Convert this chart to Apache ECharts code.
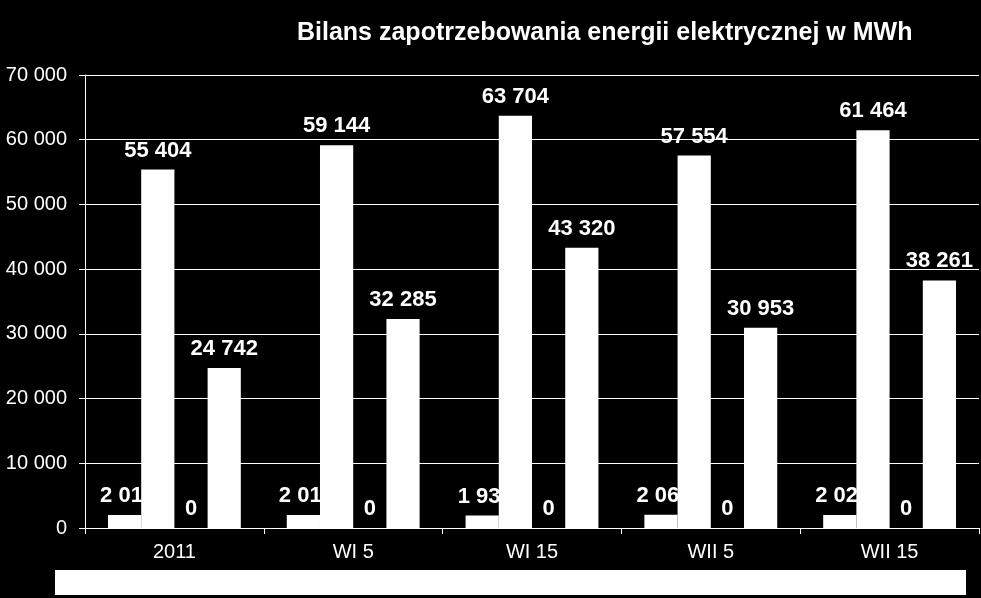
<!DOCTYPE html>
<html>
<head>
<meta charset="utf-8">
<script src="https://cdn.jsdelivr.net/npm/echarts@6/dist/echarts.min.js"></script>
<style>
  html, body { margin: 0; padding: 0; background: #000; }
  #chart { width: 981px; height: 598px; }
</style>
</head>
<body>
<div id="chart"></div>
<script>
const categories = ['2011', 'WI 5', 'WI 15', 'WII 5', 'WII 15'];
const seriesA = [2010, 2010, 1930, 2060, 2020];
const seriesB = [55404, 59144, 63704, 57554, 61464];
const seriesC = [0, 0, 0, 0, 0];
const seriesD = [24742, 32285, 43320, 30953, 38261];
const yTicks = { min: 0, max: 70000, interval: 10000 };

const fmt = v => String(v).replace(/\B(?=(\d{3})+(?!\d))/g, ' ');
const FONT = '"Liberation Sans", Arial, sans-serif';

// labels of the small series run under the next (white) bar, so their last digit disappears
const bar = (data, dx = 0) => ({
  type: 'bar',
  data,
  barGap: '0%',
  barCategoryGap: '25.7%',
  itemStyle: { color: '#fff' },
  label: {
    show: true, position: 'top', distance: 8, offset: [dx, 0],
    color: '#fff', fontFamily: FONT, fontSize: 22, fontWeight: 'bold',
    formatter: p => fmt(p.value)
  }
});

const chart = echarts.init(document.getElementById('chart'));
chart.setOption({
  backgroundColor: '#000',
  animation: false,
  title: {
    text: 'Bilans zapotrzebowania energii elektrycznej w MWh',
    left: 292, top: 16,
    textStyle: { color: '#fff', fontFamily: FONT, fontSize: 25, fontWeight: 'bold' }
  },
  grid: { left: 85, right: 2, top: 75, bottom: 70 },
  xAxis: {
    type: 'category',
    data: categories,
    axisLine: { lineStyle: { color: '#fff', width: 1 } },
    axisTick: { show: true, length: 6, lineStyle: { color: '#fff' } },
    axisLabel: { color: '#fff', fontFamily: FONT, fontSize: 20, margin: 14 }
  },
  yAxis: {
    type: 'value',
    min: yTicks.min, max: yTicks.max, interval: yTicks.interval,
    axisLine: { show: true, lineStyle: { color: '#fff', width: 1 } },
    axisTick: { show: true, length: 6, lineStyle: { color: '#fff' } },
    axisLabel: { color: '#fff', fontFamily: FONT, fontSize: 20, margin: 18, formatter: v => fmt(v) },
    splitLine: { lineStyle: { color: '#fff', width: 1 } }
  },
  graphic: [{
    type: 'rect', left: 55, top: 570,
    shape: { width: 911, height: 25 },
    style: { fill: '#fff' }
  }],
  series: [bar(seriesA, 3), bar(seriesB), bar(seriesC), bar(seriesD)]
});
</script>
</body>
</html>
